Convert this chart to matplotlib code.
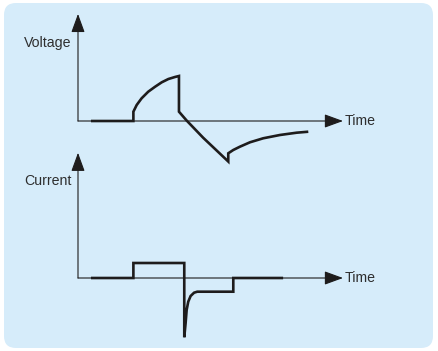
import matplotlib
matplotlib.use("Agg")
import matplotlib.pyplot as plt
from matplotlib.patches import FancyBboxPatch
from matplotlib import font_manager

# ---- data (time in arbitrary units, signals normalised) ----
volt_t = [0.49, 2.09, 2.09, 2.215, 2.40, 2.65, 2.91, 3.16, 3.41, 3.66, 3.81,
          3.81, 4.10, 4.72, 5.67, 5.67, 5.86, 6.11, 6.49, 6.99, 7.62, 8.25, 8.69]
volt_v = [0.0, 0.0, 0.207, 0.356, 0.504, 0.651, 0.762, 0.86, 0.933, 0.978, 1.0,
          0.207, 0.01, -0.37, -0.90, -0.718, -0.644, -0.571, -0.473, -0.384,
          -0.311, -0.26, -0.238]

curr_t = [0.49, 2.09, 2.09, 4.01, 4.01, 4.06, 4.10, 4.16, 4.25, 4.38, 4.50,
          5.86, 5.86, 7.74]
curr_i = [0.0, 0.0, 1.0, 1.0, -3.95, -3.02, -2.13, -1.58, -1.2, -0.98, -0.913,
          -0.913, 0.0, 0.0]

axis_labels = ["Voltage", "Current"]
time_label = "Time"

W, H = 438, 351
fig = plt.figure(figsize=(W / 100, H / 100), dpi=100)
fig.patch.set_facecolor("white")

# background rounded panel
bg = fig.add_axes([0, 0, 1, 1])
bg.set_xlim(0, W)
bg.set_ylim(H, 0)
bg.axis("off")
bg.add_patch(FancyBboxPatch((4, 3), 429, 345,
                            boxstyle="round,pad=0,rounding_size=12",
                            facecolor="#d6ecfa", edgecolor="none"))

installed = {f.name for f in font_manager.fontManager.ttflist}
FONT = [f for f in ["Liberation Sans Narrow", "DejaVu Sans Condensed",
                    "Liberation Sans", "DejaVu Sans"] if f in installed]
TXT = "#2e2e2e"
LINE = "#1e1c1c"
FS = 10.2


def panel(rect, ylim, ytip, t, y, label, label_y):
    ax = fig.add_axes(rect)
    ax.set_xlim(0, 10)
    ax.set_ylim(*ylim)
    ax.axis("off")
    ax.patch.set_alpha(0)
    arrow = dict(arrowstyle="-|>,head_length=1.15,head_width=0.42",
                 mutation_scale=10, lw=0.8, color=LINE,
                 shrinkA=0, shrinkB=0)
    ax.annotate("", xy=(0, ytip), xytext=(0, 0), arrowprops=arrow)
    ax.annotate("", xy=(10, 0), xytext=(0, 0), arrowprops=arrow)
    ax.plot(t, y, color=LINE, lw=1.9, solid_joinstyle="miter",
            solid_capstyle="butt")
    ax.text(10.08, 0, time_label, ha="left", va="center", fontsize=FS,
            color=TXT, family=FONT)
    ax.text(-0.23, label_y, label, ha="right", va="center", fontsize=FS,
            color=TXT, family=FONT)
    return ax


# voltage panel: v=0 at py 121, 45 px/unit, ylim -1..2.4 -> py 166..13
panel([78 / W, (H - 166) / H, 265 / W, 153 / H], (-1, 2.4), 2.38,
      volt_t, volt_v, axis_labels[0], 1.73)

# current panel: i=0 at py 278, 15 px/unit, ylim -4.2..8.4 -> py 341..152
panel([78 / W, (H - 341) / H, 265 / W, 189 / H], (-4.2, 8.4), 8.35,
      curr_t, curr_i, axis_labels[1], 6.47)

fig.savefig("out.png", dpi=100)
